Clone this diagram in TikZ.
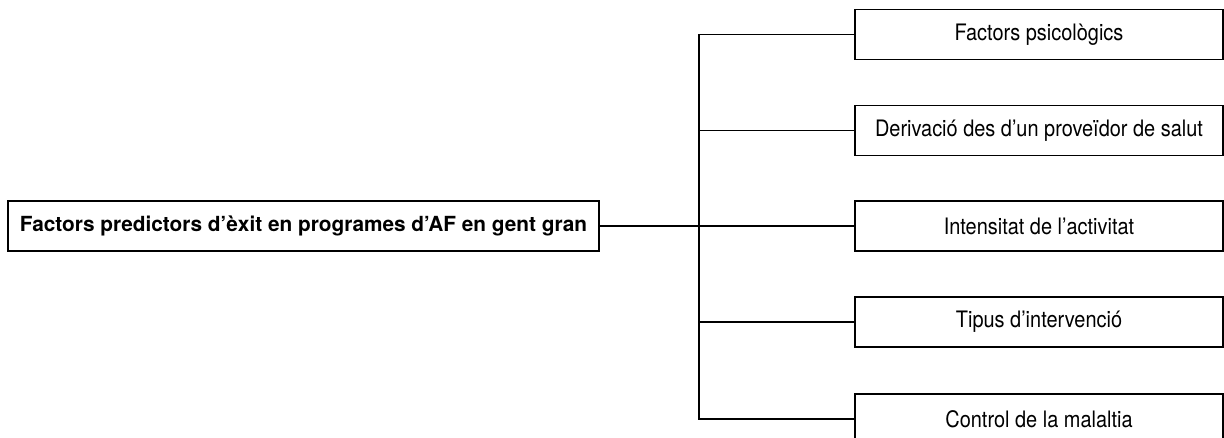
\documentclass[tikz,border=0pt]{standalone}
\usepackage{fontspec}
\setmainfont{TeX Gyre Heros}
\newfontfamily\factorfont[FakeStretch=0.88]{TeX Gyre Heros}
\usepackage{tikz}

\begin{document}
\begin{tikzpicture}[x=0.75pt,y=0.75pt,yscale=-1,xscale=1,
	mainbox/.style={draw, line width=1pt, minimum width=443.25pt, minimum height=37.5pt, inner sep=0pt, font=\fontsize{15.6}{17}\selectfont\bfseries},
	factorbox/.style={draw, line width=1pt, minimum width=276pt, minimum height=37.5pt, inner sep=0pt, font=\factorfont\fontsize{17}{19}\selectfont},
	link/.style={line width=1pt}]
	%set diagram area: 1224 x 437
	\useasboundingbox (0,0) rectangle (1224,437);
	
	%Main box
	\node [mainbox] (main) at (303.5,226) {Factors predictors d’èxit en programes d’AF en gent gran};
	
	%Factor boxes
	\node [factorbox] (psico) at (1039,34.5) {Factors psicològics};
	\node [factorbox] (deriv) at (1039,130.5) {Derivació des d’un proveïdor de salut};
	\node [factorbox] (inten) at (1039,226) {Intensitat de l’activitat};
	\node [factorbox] (tipus) at (1039,322) {Tipus d’intervenció};
	\node [factorbox] (contr) at (1039,419) {Control de la malaltia};
	
	%Trunk
	\coordinate (trunk) at (699,226);
	\draw [link] (main.east) -- (inten.west);
	\draw [link] (psico.west) -- (psico.west -| trunk) -- (contr.west -| trunk) -- (contr.west);
	\draw [link] (deriv.west) -- (deriv.west -| trunk);
	\draw [link] (tipus.west) -- (tipus.west -| trunk);
	
\end{tikzpicture}
\end{document}
